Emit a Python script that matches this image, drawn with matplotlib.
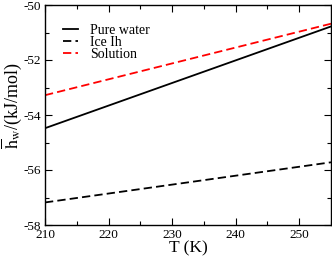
import matplotlib
matplotlib.use("Agg")
import matplotlib.pyplot as plt
from matplotlib.ticker import MultipleLocator

T = [210, 255]
pure_water = [-54.48, -50.78]
ice_ih = [-57.18, -55.72]
solution = [-53.28, -50.68]

plt.rcParams['font.family'] = ['Liberation Serif', 'DejaVu Serif']
plt.rcParams['mathtext.fontset'] = 'stix'
plt.rcParams['axes.unicode_minus'] = False

fig = plt.figure(figsize=(3.32, 2.57), dpi=100)
ax = fig.add_axes([45/332, (257-225)/257, 286/332, 220/257])

dash = (0, (4.6, 2.3))
ax.plot(T, pure_water, color='black', lw=1.3, label='Pure water')
ax.plot(T, ice_ih, color='black', lw=1.3, linestyle=dash, label='Ice Ih')
ax.plot(T, solution, color='red', lw=1.3, linestyle=dash, label='Solution')

ax.set_xlim(210, 255)
ax.set_ylim(-58, -50)
ax.xaxis.set_major_locator(MultipleLocator(10))
ax.xaxis.set_minor_locator(MultipleLocator(5))
ax.yaxis.set_major_locator(MultipleLocator(2))
ax.yaxis.set_minor_locator(MultipleLocator(1))
ax.tick_params(which='both', direction='in', top=True, right=True, labelsize=9.5, width=0.8)
ax.tick_params(which='major', length=5, pad=3)
ax.tick_params(which='minor', length=3)
for s in ax.spines.values():
    s.set_linewidth(1.0)

ax.set_xlabel('T (K)', fontsize=12.5)
ax.xaxis.set_label_coords(0.5, -0.07)
ax.xaxis.label.set_va('top')

fig.text(11.5/332, 1 - 106/257, r'$\overline{\mathrm{h}}_{\mathrm{w}}$/(kJ/mol)',
         fontsize=13, rotation=90, ha='center', va='center')

ax.legend(loc='upper left', frameon=False, fontsize=10, handlelength=1.1,
          handletextpad=0.85, labelspacing=-0.05, borderpad=0, borderaxespad=0,
          bbox_to_anchor=(0.063, 0.915))

fig.savefig('out.png', dpi=100)
